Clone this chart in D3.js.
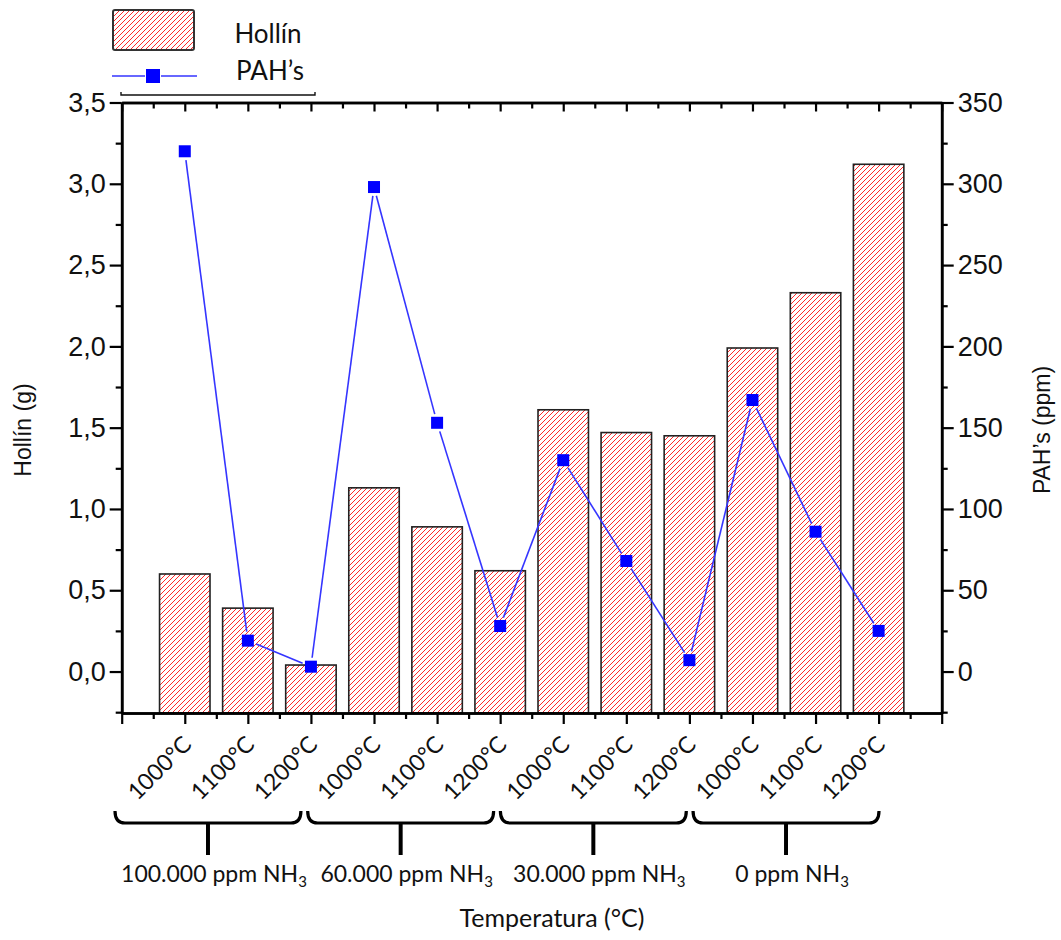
<!DOCTYPE html>
<html>
<head>
<meta charset="utf-8">
<script src="https://cdn.jsdelivr.net/npm/d3@7"></script>
<style>
  body { margin: 0; background: #fff; }
  #chart { width: 1061px; height: 940px; }
</style>
</head>
<body>
<div id="chart"></div>
<script>
// data
const categories = ['1000°C', '1100°C', '1200°C', '1000°C', '1100°C', '1200°C',
                    '1000°C', '1100°C', '1200°C', '1000°C', '1100°C', '1200°C'];
const groups = ['100.000 ppm NH', '60.000 ppm NH', '30.000 ppm NH', '0 ppm NH'];
const hollin = [0.60, 0.39, 0.04, 1.13, 0.89, 0.62, 1.61, 1.47, 1.45, 1.99, 2.33, 3.12];
const pahs   = [320, 19, 3, 298, 153, 28, 130, 68, 7, 167, 86, 25];
const leftTicks  = [0, 0.5, 1, 1.5, 2, 2.5, 3, 3.5];
const rightTicks = [0, 50, 100, 150, 200, 250, 300, 350];

function drawChart(containerId) {
  const container = d3.select(containerId);
  container.selectAll('*').remove();

  const width = 1061, height = 940;
  const left = 121.7, right = 941.7, top = 102.5, bottom = 713;
  const numFont = '"Liberation Sans", Arial, sans-serif';
  const txtFont = 'Lato, "Open Sans", sans-serif';

  const svg = container.append('svg')
      .attr('width', width)
      .attr('height', height);

  // hatch
  const defs = svg.append('defs');
  const pat = defs.append('pattern')
      .attr('id', 'hatch')
      .attr('patternUnits', 'userSpaceOnUse')
      .attr('width', 5).attr('height', 5);
  pat.append('path')
      .attr('d', 'M-1,1 L1,-1 M0,5 L5,0 M4,6 L6,4')
      .attr('stroke', '#ff2a2a')
      .attr('stroke-width', 1);

  // Scales
  const x = d3.scaleLinear().domain([0, categories.length + 1]).range([left, right]);
  const yL = d3.scaleLinear().domain([-0.255, 3.5]).range([bottom, top]);
  const yR = d3.scaleLinear().domain([-25.5, 350]).range([bottom, top]);
  const barW = (x(1) - x(0)) * 0.8;

  // Bars
  svg.append('g').selectAll('rect')
    .data(hollin)
    .join('rect')
      .attr('x', (d, i) => x(i + 1) - barW / 2)
      .attr('y', d => yL(d))
      .attr('width', barW)
      .attr('height', d => yL(-0.255) - yL(d))
      .attr('fill', 'url(#hatch)')
      .attr('stroke', '#222')
      .attr('stroke-width', 1.6);

  // PAH line, with gaps round the markers
  const pts = pahs.map((d, i) => [x(i + 1), yR(d)]);
  const gap = 9;
  const segs = d3.pairs(pts).map(([a, b]) => {
    const dx = b[0] - a[0], dy = b[1] - a[1];
    const len = Math.hypot(dx, dy);
    const ux = dx / len, uy = dy / len;
    return [[a[0] + ux * gap, a[1] + uy * gap], [b[0] - ux * gap, b[1] - uy * gap]];
  });
  svg.append('g').selectAll('line')
    .data(segs)
    .join('line')
      .attr('x1', d => d[0][0]).attr('y1', d => d[0][1])
      .attr('x2', d => d[1][0]).attr('y2', d => d[1][1])
      .attr('stroke', '#3535ff')
      .attr('stroke-width', 1.6);
  svg.append('g').selectAll('rect')
    .data(pts)
    .join('rect')
      .attr('x', d => d[0] - 6).attr('y', d => d[1] - 6)
      .attr('width', 12).attr('height', 12)
      .attr('fill', '#0000ff');

  // Axes
  const halfTicks = d3.range(0.5, categories.length + 1, 1);
  const intTicks = d3.range(0, categories.length + 2, 1);
  function styleAxis(g) {
    g.select('.domain').attr('stroke', '#000').attr('stroke-width', 2.6);
    g.selectAll('.tick line').attr('stroke', '#000').attr('stroke-width', 2.2);
  }

  svg.append('g')
      .attr('transform', `translate(0,${bottom})`)
      .call(d3.axisBottom(x).tickValues(intTicks).tickSize(11).tickSizeOuter(0).tickFormat(''))
      .call(styleAxis);
  svg.append('g')
      .attr('transform', `translate(0,${bottom})`)
      .call(d3.axisBottom(x).tickValues(halfTicks).tickSize(6).tickSizeOuter(0).tickFormat(''))
      .call(styleAxis);
  svg.append('g')
      .attr('transform', `translate(0,${top})`)
      .call(d3.axisTop(x).tickValues(intTicks).tickSize(-9).tickSizeOuter(0).tickFormat(''))
      .call(styleAxis);
  svg.append('g')
      .attr('transform', `translate(0,${top})`)
      .call(d3.axisTop(x).tickValues(halfTicks).tickSize(-6).tickSizeOuter(0).tickFormat(''))
      .call(styleAxis);

  const gl = svg.append('g')
      .attr('transform', `translate(${left},0)`)
      .call(d3.axisLeft(yL).tickValues(leftTicks).tickSize(12).tickSizeOuter(0)
        .tickFormat(d => d.toFixed(1).replace('.', ',')))
      .call(styleAxis);
  gl.selectAll('.tick text')
      .attr('font-family', numFont).attr('font-size', 27).attr('fill', '#111').attr('dx', -1);
  svg.append('g')
      .attr('transform', `translate(${left},0)`)
      .call(d3.axisLeft(yL).tickValues(leftTicks.map(d => d + 0.25).slice(0, -1).concat([-0.25]))
        .tickSize(6).tickSizeOuter(0).tickFormat(''))
      .call(styleAxis);

  const gr = svg.append('g')
      .attr('transform', `translate(${right},0)`)
      .call(d3.axisRight(yR).tickValues(rightTicks).tickSize(12).tickSizeOuter(0))
      .call(styleAxis);
  gr.selectAll('.tick text')
      .attr('font-family', numFont).attr('font-size', 27).attr('fill', '#111').attr('dx', 1);
  svg.append('g')
      .attr('transform', `translate(${right},0)`)
      .call(d3.axisRight(yR).tickValues(rightTicks.map(d => d + 25).slice(0, -1).concat([-25]))
        .tickSize(6).tickSizeOuter(0).tickFormat(''))
      .call(styleAxis);

  // category labels
  svg.append('g').selectAll('text')
    .data(categories)
    .join('text')
      .attr('transform', (d, i) => `translate(${x(i + 1) + 8},${bottom + 33}) rotate(-45)`)
      .attr('text-anchor', 'end')
      .attr('font-family', txtFont)
      .attr('font-size', 23)
      .attr('fill', '#111')
      .text(d => d);

  // group braces
  const gx = d3.scaleBand().domain(groups).range([115, 879]).paddingInner(0.035);
  const braceTop = 811, braceMid = 823, braceBot = 855;
  const braces = svg.append('g').selectAll('g')
    .data(groups)
    .join('g');
  braces.append('path')
      .attr('d', d => {
        const x0 = gx(d), x1 = gx(d) + gx.bandwidth();
        return `M${x0},${braceTop} Q${x0},${braceMid} ${x0 + 10},${braceMid} L${x1 - 10},${braceMid} Q${x1},${braceMid} ${x1},${braceTop}`;
      })
      .attr('fill', 'none')
      .attr('stroke', '#000')
      .attr('stroke-width', 3.2);
  braces.append('line')
      .attr('x1', d => gx(d) + gx.bandwidth() / 2)
      .attr('x2', d => gx(d) + gx.bandwidth() / 2)
      .attr('y1', braceMid).attr('y2', braceBot)
      .attr('stroke', '#000')
      .attr('stroke-width', 4);
  const gt = braces.append('text')
      .attr('x', d => gx(d) + gx.bandwidth() / 2 + 6)
      .attr('y', 882)
      .attr('text-anchor', 'middle')
      .attr('font-family', txtFont)
      .attr('font-size', 23)
      .attr('fill', '#111');
  gt.append('tspan').text(d => d);
  gt.append('tspan').attr('font-size', 15).attr('dy', 5).text('3');

  // axis titles
  svg.append('text')
      .attr('x', 552).attr('y', 927)
      .attr('text-anchor', 'middle')
      .attr('font-family', txtFont)
      .attr('font-size', 25)
      .attr('fill', '#111')
      .text('Temperatura (°C)');
  svg.append('text')
      .attr('transform', 'translate(31,430) rotate(-90)')
      .attr('text-anchor', 'middle')
      .attr('font-family', numFont)
      .attr('font-size', 23)
      .attr('fill', '#111')
      .text('Hollín (g)');
  svg.append('text')
      .attr('transform', 'translate(1050,430) rotate(-90)')
      .attr('text-anchor', 'middle')
      .attr('font-family', numFont)
      .attr('font-size', 23)
      .attr('fill', '#111')
      .text('PAH’s (ppm)');

  // legend
  const lg = svg.append('g');
  lg.append('rect')
      .attr('x', 113).attr('y', 10)
      .attr('width', 81).attr('height', 40)
      .attr('rx', 2)
      .attr('fill', 'url(#hatch)')
      .attr('stroke', '#333')
      .attr('stroke-width', 2);
  lg.append('line')
      .attr('x1', 112).attr('x2', 145).attr('y1', 76).attr('y2', 76)
      .attr('stroke', '#3535ff').attr('stroke-width', 1.6);
  lg.append('line')
      .attr('x1', 161).attr('x2', 197).attr('y1', 76).attr('y2', 76)
      .attr('stroke', '#3535ff').attr('stroke-width', 1.6);
  lg.append('rect')
      .attr('x', 146).attr('y', 69).attr('width', 14).attr('height', 14)
      .attr('fill', '#0000ff');
  lg.append('text')
      .attr('x', 268).attr('y', 43)
      .attr('text-anchor', 'middle')
      .attr('font-family', txtFont).attr('font-size', 26).attr('fill', '#111')
      .text('Hollín');
  lg.append('text')
      .attr('x', 270).attr('y', 80)
      .attr('text-anchor', 'middle')
      .attr('font-family', txtFont).attr('font-size', 26).attr('fill', '#111')
      .text('PAH’s');
  lg.append('path')
      .attr('d', 'M121,92 L121,95 L315,95 L315,92')
      .attr('fill', 'none')
      .attr('stroke', '#111')
      .attr('stroke-width', 1.4);
}

drawChart('#chart');
</script>
</body>
</html>
